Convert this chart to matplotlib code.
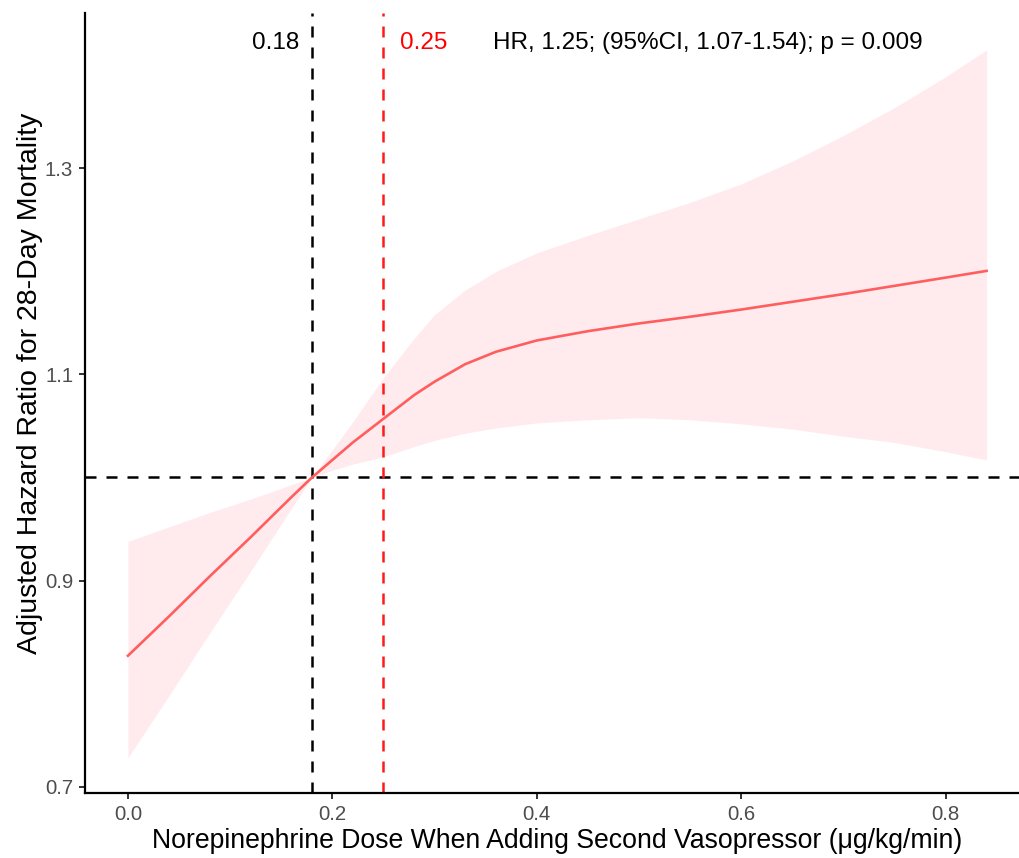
import matplotlib.pyplot as plt

plt.rcParams['font.family'] = ['Liberation Sans', 'DejaVu Sans']

# values
dose = [0.00, 0.04, 0.08, 0.12, 0.16, 0.18, 0.20, 0.22, 0.25, 0.28, 0.30, 0.33,
        0.36, 0.40, 0.45, 0.50, 0.55, 0.60, 0.65, 0.70, 0.75, 0.80, 0.84]
hr = [0.827, 0.865, 0.904, 0.942, 0.981, 1.000, 1.017, 1.034, 1.057, 1.080, 1.093, 1.110,
      1.122, 1.133, 1.142, 1.1495, 1.156, 1.163, 1.1705, 1.178, 1.186, 1.194, 1.2005]
hr_upper = [0.938, 0.952, 0.966, 0.979, 0.993, 1.000, 1.027, 1.054, 1.097, 1.135, 1.158, 1.182,
            1.200, 1.218, 1.235, 1.251, 1.267, 1.285, 1.307, 1.332, 1.359, 1.389, 1.415]
hr_lower = [0.728, 0.788, 0.849, 0.909, 0.970, 1.000, 1.007, 1.013, 1.020, 1.030, 1.036, 1.043,
            1.048, 1.053, 1.056, 1.058, 1.056, 1.052, 1.047, 1.040, 1.034, 1.025, 1.017]
ref_dose = 0.18
cut_dose = 0.25
xticks = [0.0, 0.2, 0.4, 0.6, 0.8]
yticks = [0.7, 0.9, 1.1, 1.3]
annot = "HR, 1.25; (95%CI, 1.07-1.54); p = 0.009"

fig = plt.figure(figsize=(10.19, 8.58), dpi=100)
ax = fig.add_axes([85 / 1019, 64.7 / 858, 944.5 / 1019, 780 / 858])

ax.fill_between(dose, hr_lower, hr_upper, color='#FFEBEE', lw=0, zorder=1)
ax.plot(dose, hr, color='#FF5E5E', lw=1.9, zorder=3)

dash = (4.4, 4)
ax.axhline(1.0, color='black', lw=1.8, dashes=dash, zorder=2)
ax.axvline(ref_dose, color='black', lw=1.8, dashes=dash, zorder=2)
ax.axvline(cut_dose, color='#FF1A1A', lw=1.8, dashes=dash, zorder=2)

ax.text(0.168, 1.422, f"{ref_dose:.2f}", ha='right', va='center', fontsize=17.5, color='black')
ax.text(0.266, 1.422, f"{cut_dose:.2f}", ha='left', va='center', fontsize=17.5, color='red')
ax.text(0.357, 1.422, annot, ha='left', va='center', fontsize=17.5, color='black')

ax.set_xlim(-0.042, 0.882)
ax.set_ylim(0.6935, 1.4505)
ax.set_xticks(xticks)
ax.set_xticklabels([f"{t:.1f}" for t in xticks])
ax.set_yticks(yticks)
ax.set_yticklabels([f"{t:.1f}" for t in yticks])

for s in ['top', 'right']:
    ax.spines[s].set_visible(False)
for s in ['left', 'bottom']:
    ax.spines[s].set_linewidth(1.6)
ax.tick_params(length=4.5, width=1.4, color='#333333', labelcolor='#4D4D4D',
               labelsize=14.7, pad=4)

ax.set_xlabel("Norepinephrine Dose When Adding Second Vasopressor (μg/kg/min)",
              fontsize=19.2, labelpad=3)
ax.set_ylabel("Adjusted Hazard Ratio for 28-Day Mortality", fontsize=20.5,
              va='center', ha='center')
ax.yaxis.set_label_coords((30 - 85) / 944.5, (858 - 383 - 64.7) / 780)

fig.savefig('out.png', dpi=100)
